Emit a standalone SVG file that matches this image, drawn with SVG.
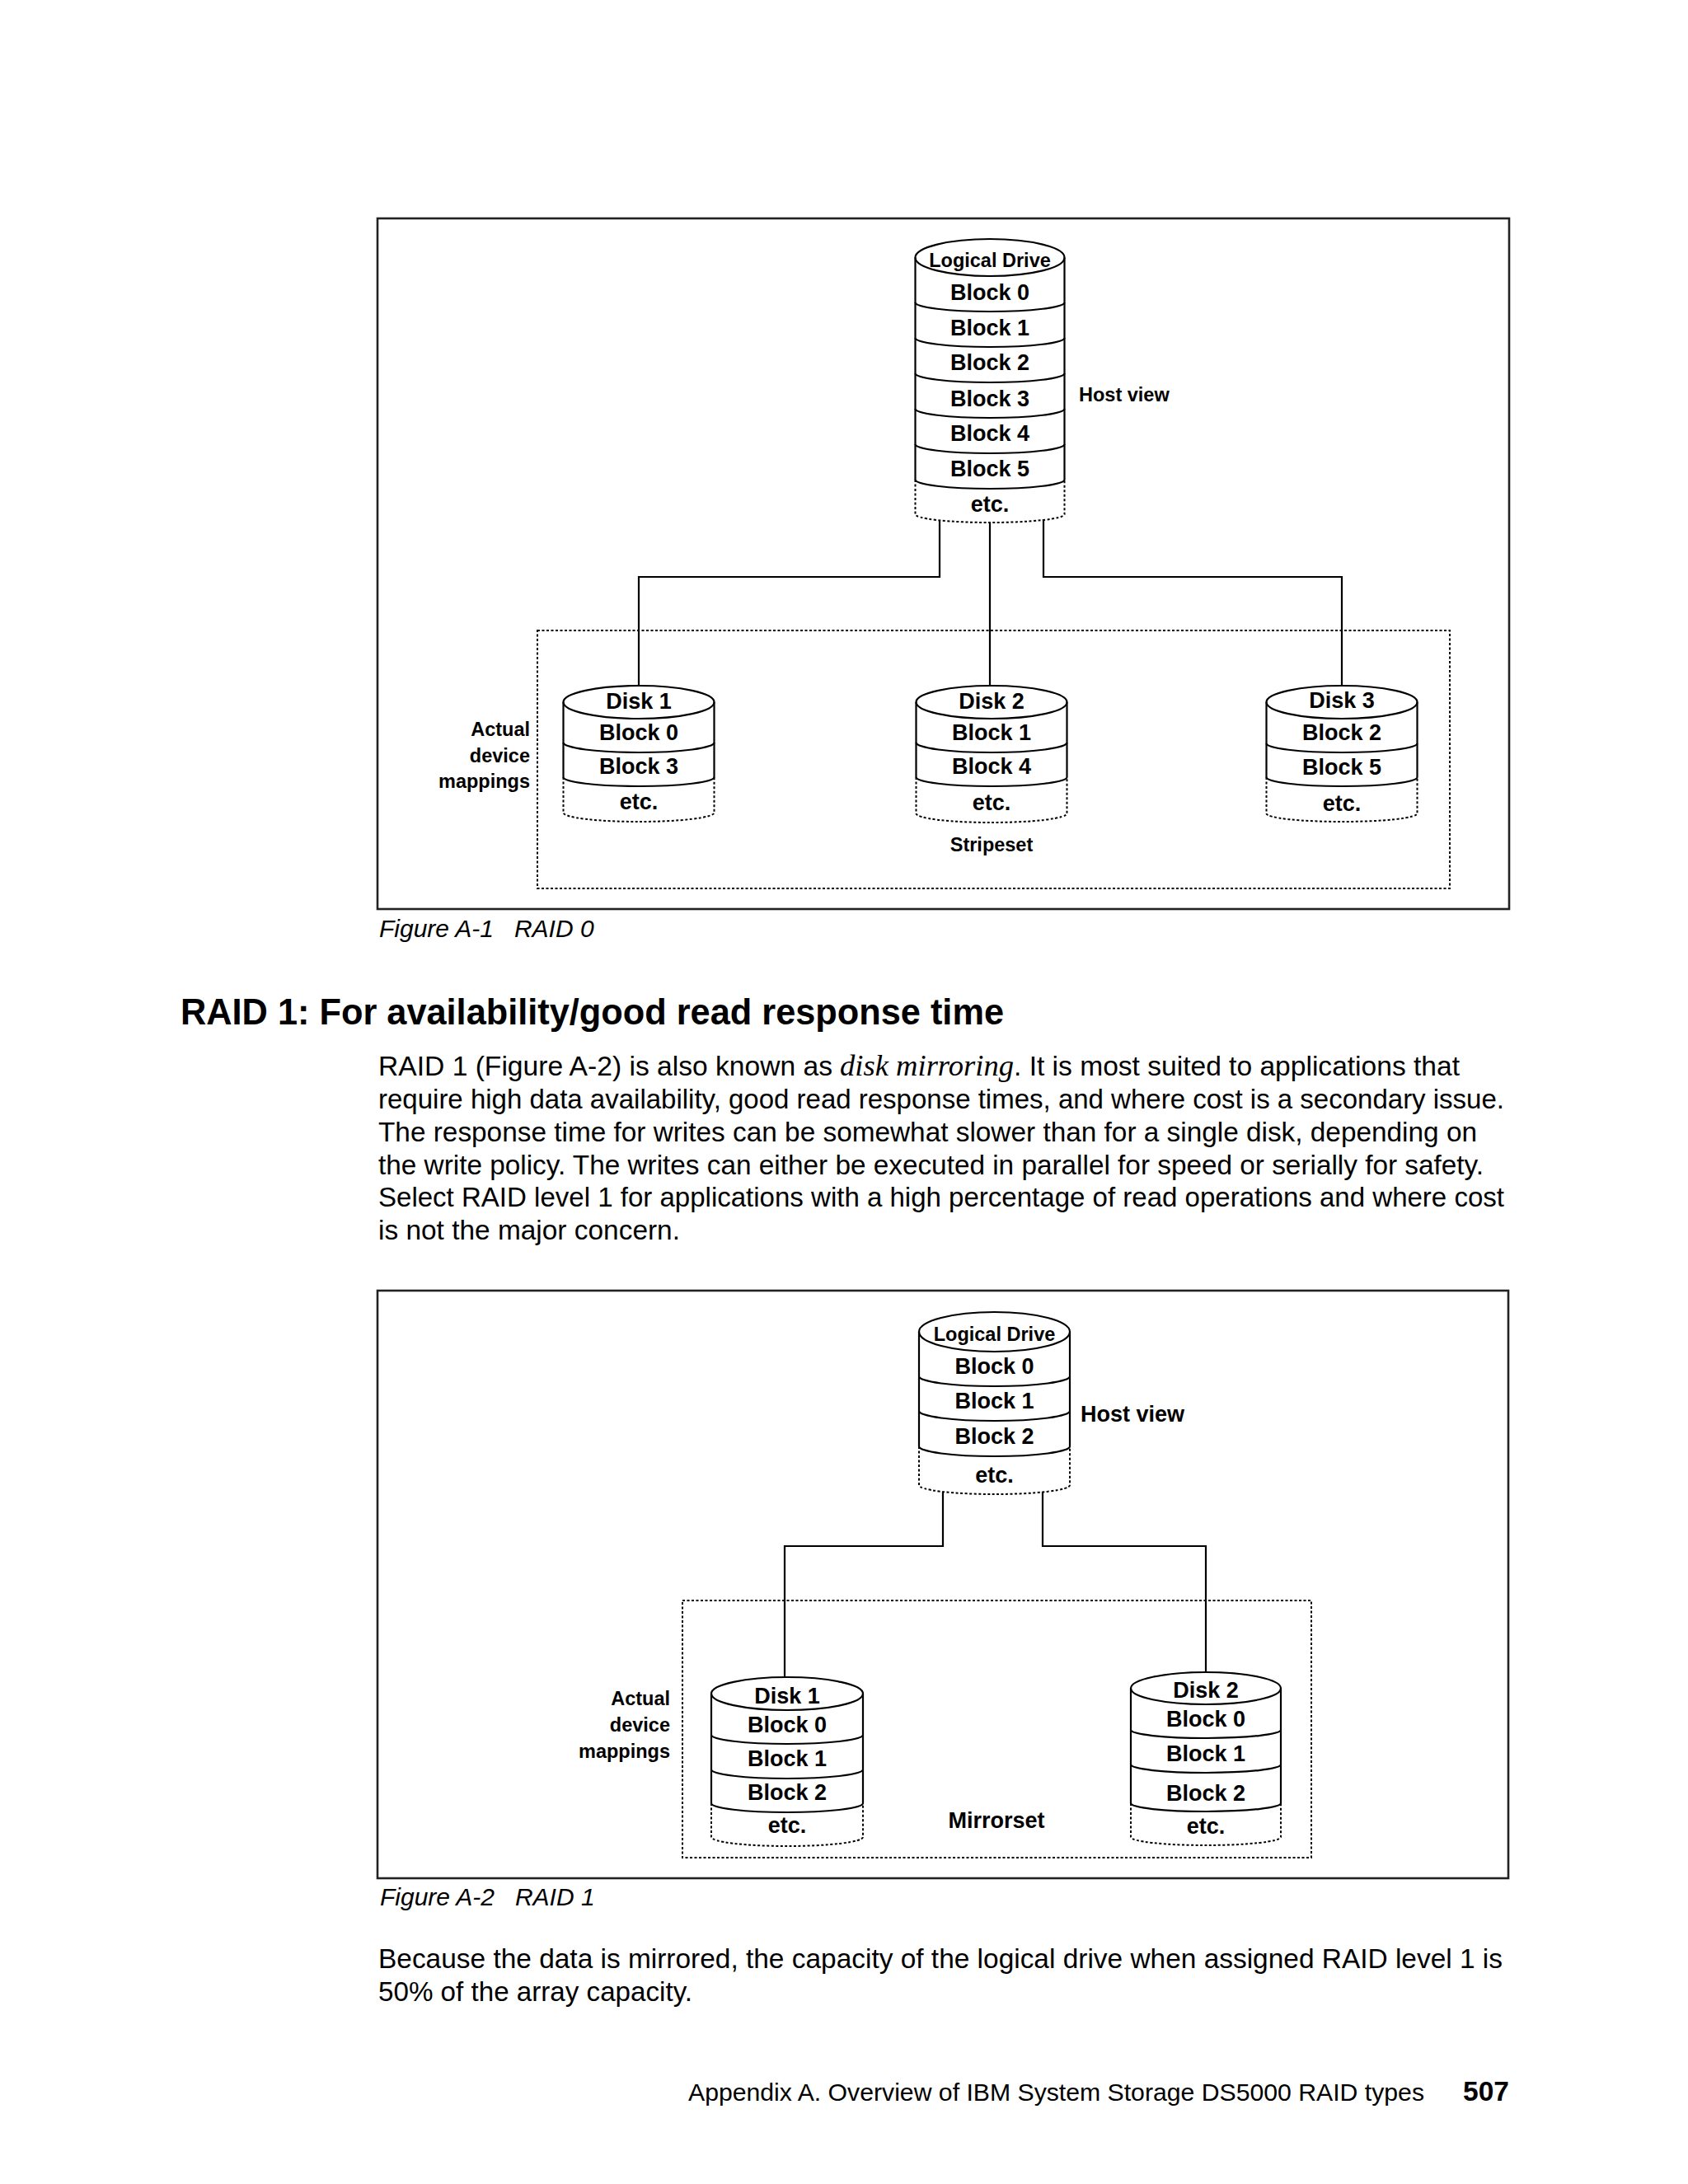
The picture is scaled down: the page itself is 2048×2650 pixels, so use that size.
<svg xmlns="http://www.w3.org/2000/svg" width="2048" height="2650" viewBox="0 0 2048 2650">
<style>
.s{fill:none;stroke:#000;stroke-width:2.2}
.f{fill:#fff;stroke:#000;stroke-width:2.2}
.d{fill:none;stroke:#000;stroke-width:2;stroke-dasharray:3 2.5}
.box{fill:none;stroke:#222;stroke-width:2.6}
.lb{font-family:"Liberation Sans",Arial,sans-serif;font-weight:bold;font-size:27px;text-anchor:middle;fill:#000}
.sm{font-family:"Liberation Sans",Arial,sans-serif;font-weight:bold;font-size:23.5px;fill:#000}
.md{font-family:"Liberation Sans",Arial,sans-serif;font-weight:bold;font-size:27px;fill:#000}
.body{font-family:"Liberation Sans",Arial,sans-serif;font-size:33.5px;fill:#000}
.cap{font-family:"Liberation Sans",Arial,sans-serif;font-style:italic;font-size:30px;fill:#000}
.h1{font-family:"Liberation Sans",Arial,sans-serif;font-weight:bold;font-size:43.5px;fill:#000}
.em{font-family:"Liberation Serif","Times New Roman",serif;font-style:italic;font-size:36px;fill:#000}
.r{text-anchor:end}
.c{text-anchor:middle}
</style>

<!-- ================= Figure A-1 ================= -->
<g id="fig1-frame">
<rect class="box" x="458" y="265" width="1373" height="838"/>
<rect class="d" x="652" y="765" width="1107" height="313"/>
<text class="sm c" x="1203" y="1033">Stripeset</text>
<text class="sm r" x="643" y="893">Actual</text>
<text class="sm r" x="643" y="925">device</text>
<text class="sm r" x="643" y="956">mappings</text>
</g>

<g id="fig1-connectors">
<path class="s" d="M1140,631 V700 H775 V832"/>
<path class="s" d="M1201,634 V832"/>
<path class="s" d="M1266,631 V700 H1628 V832"/>
</g>

<g id="fig1-logical-drive">
<ellipse class="f" cx="1201" cy="312.5" rx="90.5" ry="22.5"/>
<path class="s" d="M1110.5,312.5 V582 M1291.5,312.5 V582"/>
<path class="s" d="M1110.5,367 A90.5,11 0 0 0 1291.5,367 M1110.5,410 A90.5,11 0 0 0 1291.5,410 M1110.5,453 A90.5,11 0 0 0 1291.5,453 M1110.5,496 A90.5,11 0 0 0 1291.5,496 M1110.5,539 A90.5,11 0 0 0 1291.5,539 M1110.5,582 A90.5,11 0 0 0 1291.5,582"/>
<path class="d" d="M1110.5,582 V624 A90.5,10 0 0 0 1291.5,624 V582"/>
<text class="sm c" x="1201" y="324">Logical Drive</text>
<text class="lb" x="1201" y="364">Block 0</text>
<text class="lb" x="1201" y="407">Block 1</text>
<text class="lb" x="1201" y="449">Block 2</text>
<text class="lb" x="1201" y="493">Block 3</text>
<text class="lb" x="1201" y="535">Block 4</text>
<text class="lb" x="1201" y="578">Block 5</text>
<text class="lb" x="1201" y="621">etc.</text>
<text class="sm" x="1309" y="487">Host view</text>
</g>

<g id="fig1-disk1">
<ellipse class="f" cx="775" cy="852" rx="91.5" ry="20"/>
<path class="s" d="M683.5,852 V943 M866.5,852 V943"/>
<path class="s" d="M683.5,901 A91.5,12 0 0 0 866.5,901 M683.5,943 A91.5,11 0 0 0 866.5,943"/>
<path class="d" d="M683.5,943 V986 A91.5,11 0 0 0 866.5,986 V943"/>
<text class="lb" x="775" y="860">Disk 1</text>
<text class="lb" x="775" y="898">Block 0</text>
<text class="lb" x="775" y="939">Block 3</text>
<text class="lb" x="775" y="982">etc.</text>
</g>

<g id="fig1-disk2">
<ellipse class="f" cx="1203" cy="852" rx="91.5" ry="20"/>
<path class="s" d="M1111.5,852 V943 M1294.5,852 V943"/>
<path class="s" d="M1111.5,901 A91.5,12 0 0 0 1294.5,901 M1111.5,943 A91.5,11 0 0 0 1294.5,943"/>
<path class="d" d="M1111.5,943 V987 A91.5,11 0 0 0 1294.5,987 V943"/>
<text class="lb" x="1203" y="860">Disk 2</text>
<text class="lb" x="1203" y="898">Block 1</text>
<text class="lb" x="1203" y="939">Block 4</text>
<text class="lb" x="1203" y="983">etc.</text>
</g>

<g id="fig1-disk3">
<ellipse class="f" cx="1628" cy="852" rx="91.5" ry="20"/>
<path class="s" d="M1536.5,852 V943 M1719.5,852 V943"/>
<path class="s" d="M1536.5,902 A91.5,11 0 0 0 1719.5,902 M1536.5,943 A91.5,11 0 0 0 1719.5,943"/>
<path class="d" d="M1536.5,943 V987 A91.5,10 0 0 0 1719.5,987 V943"/>
<text class="lb" x="1628" y="859">Disk 3</text>
<text class="lb" x="1628" y="898">Block 2</text>
<text class="lb" x="1628" y="940">Block 5</text>
<text class="lb" x="1628" y="984">etc.</text>
</g>

<g id="fig1-caption">
<text class="cap" x="460" y="1137" xml:space="preserve">Figure A-1   RAID 0</text>
</g>

<!-- ================= Text ================= -->
<g id="section-text">
<text class="h1" x="219" y="1243" textLength="999" lengthAdjust="spacingAndGlyphs">RAID 1: For availability/good read response time</text>
<text class="body" x="459" y="1305" textLength="551" lengthAdjust="spacingAndGlyphs">RAID 1 (Figure A-2) is also known as</text>
<text class="em" x="1019" y="1305" textLength="211" lengthAdjust="spacingAndGlyphs">disk mirroring</text>
<text class="body" x="1230" y="1305" textLength="541" lengthAdjust="spacingAndGlyphs">. It is most suited to applications that</text>
<text class="body" x="459" y="1345" textLength="1366" lengthAdjust="spacingAndGlyphs">require high data availability, good read response times, and where cost is a secondary issue.</text>
<text class="body" x="459" y="1385" textLength="1333" lengthAdjust="spacingAndGlyphs">The response time for writes can be somewhat slower than for a single disk, depending on</text>
<text class="body" x="459" y="1425" textLength="1341" lengthAdjust="spacingAndGlyphs">the write policy. The writes can either be executed in parallel for speed or serially for safety.</text>
<text class="body" x="459" y="1464" textLength="1366" lengthAdjust="spacingAndGlyphs">Select RAID level 1 for applications with a high percentage of read operations and where cost</text>
<text class="body" x="459" y="1504" textLength="366" lengthAdjust="spacingAndGlyphs">is not the major concern.</text>
</g>

<!-- ================= Figure A-2 ================= -->
<g id="fig2-frame">
<rect class="box" x="458" y="1566" width="1372" height="713"/>
<rect class="d" x="828" y="1942" width="763" height="312"/>
<text class="md c" x="1209" y="2218">Mirrorset</text>
<text class="sm r" x="813" y="2069">Actual</text>
<text class="sm r" x="813" y="2101">device</text>
<text class="sm r" x="813" y="2133">mappings</text>
</g>

<g id="fig2-connectors">
<path class="s" d="M1144,1810 V1876 H952 V2035"/>
<path class="s" d="M1265,1810 V1876 H1463 V2029"/>
</g>

<g id="fig2-logical-drive">
<ellipse class="f" cx="1206.5" cy="1616" rx="91.5" ry="24"/>
<path class="s" d="M1115,1616 V1755 M1298,1616 V1755"/>
<path class="s" d="M1115,1670 A91.5,12 0 0 0 1298,1670 M1115,1712 A91.5,12 0 0 0 1298,1712 M1115,1755 A91.5,12 0 0 0 1298,1755"/>
<path class="d" d="M1115,1755 V1802 A91.5,11 0 0 0 1298,1802 V1755"/>
<text class="sm c" x="1206.5" y="1627">Logical Drive</text>
<text class="lb" x="1206.5" y="1667">Block 0</text>
<text class="lb" x="1206.5" y="1709">Block 1</text>
<text class="lb" x="1206.5" y="1752">Block 2</text>
<text class="lb" x="1206.5" y="1799">etc.</text>
<text class="md" x="1311" y="1725">Host view</text>
</g>

<g id="fig2-disk1">
<ellipse class="f" cx="955" cy="2055" rx="92" ry="20"/>
<path class="s" d="M863,2055 V2188 M1047,2055 V2188"/>
<path class="s" d="M863,2105 A92,11 0 0 0 1047,2105 M863,2147 A92,11 0 0 0 1047,2147 M863,2188 A92,11 0 0 0 1047,2188"/>
<path class="d" d="M863,2188 V2229 A92,11 0 0 0 1047,2229 V2188"/>
<text class="lb" x="955" y="2067">Disk 1</text>
<text class="lb" x="955" y="2102">Block 0</text>
<text class="lb" x="955" y="2143">Block 1</text>
<text class="lb" x="955" y="2184">Block 2</text>
<text class="lb" x="955" y="2224">etc.</text>
</g>

<g id="fig2-disk2">
<ellipse class="f" cx="1463" cy="2048.5" rx="91" ry="19.5"/>
<path class="s" d="M1372,2048.5 V2188 M1554,2048.5 V2188"/>
<path class="s" d="M1372,2099 A91,10 0 0 0 1554,2099 M1372,2141 A91,10 0 0 0 1554,2141 M1372,2188 A91,10 0 0 0 1554,2188"/>
<path class="d" d="M1372,2188 V2229 A91,10 0 0 0 1554,2229 V2188"/>
<text class="lb" x="1463" y="2060">Disk 2</text>
<text class="lb" x="1463" y="2095">Block 0</text>
<text class="lb" x="1463" y="2137">Block 1</text>
<text class="lb" x="1463" y="2185">Block 2</text>
<text class="lb" x="1463" y="2225">etc.</text>
</g>

<g id="fig2-caption">
<text class="cap" x="461" y="2312" xml:space="preserve">Figure A-2   RAID 1</text>
</g>

<g id="closing-text">
<text class="body" x="459" y="2388" textLength="1364" lengthAdjust="spacingAndGlyphs">Because the data is mirrored, the capacity of the logical drive when assigned RAID level 1 is</text>
<text class="body" x="459" y="2428" textLength="381" lengthAdjust="spacingAndGlyphs">50% of the array capacity.</text>
</g>

<g id="footer">
<text class="cap" x="835" y="2549" style="font-style:normal" textLength="893" lengthAdjust="spacingAndGlyphs">Appendix A. Overview of IBM System Storage DS5000 RAID types</text>
<text class="body r" x="1831" y="2549" style="font-weight:bold">507</text>
</g>
</svg>
